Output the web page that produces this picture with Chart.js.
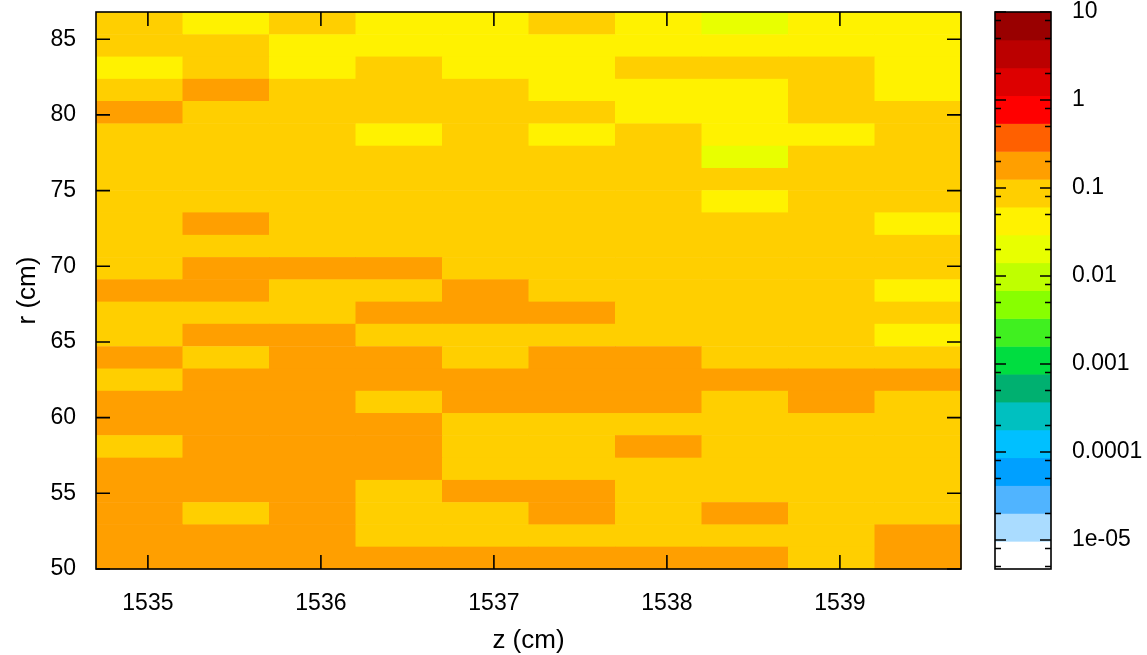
<!DOCTYPE html>
<html>
<head>
    <meta charset="utf-8">
    <title>r-z map</title>
    <script src="https://cdn.jsdelivr.net/npm/chart.js"></script>
    <style>
        body { margin: 0; background: #fff; }
    </style>
</head>
<body>
    <canvas id="mapChart" width="1147" height="655"></canvas>

    <script>
        // bin centres (cm)
        const zCentres = [1534.95, 1535.45, 1535.95, 1536.45, 1536.95, 1537.45, 1537.95, 1538.45, 1538.95, 1539.45];
        // rows listed from the top of the map down
        const rCentres = [86.06, 84.59, 83.12, 81.65, 80.18, 78.70, 77.23, 75.76, 74.29, 72.82, 71.34, 69.87, 68.40,
                          66.93, 65.46, 63.98, 62.51, 61.04, 59.57, 58.10, 56.62, 55.15, 53.68, 52.21, 50.74];

        // cell values (same row order as rCentres)
        const flux = [
            [0.085, 0.042, 0.085, 0.042, 0.042, 0.085, 0.042, 0.020, 0.042, 0.042],
            [0.085, 0.085, 0.042, 0.042, 0.042, 0.042, 0.042, 0.042, 0.042, 0.042],
            [0.042, 0.085, 0.042, 0.085, 0.042, 0.042, 0.085, 0.085, 0.085, 0.042],
            [0.085, 0.180, 0.085, 0.085, 0.085, 0.042, 0.042, 0.042, 0.085, 0.042],
            [0.180, 0.085, 0.085, 0.085, 0.085, 0.085, 0.042, 0.042, 0.085, 0.085],
            [0.085, 0.085, 0.085, 0.042, 0.085, 0.042, 0.085, 0.042, 0.042, 0.085],
            [0.085, 0.085, 0.085, 0.085, 0.085, 0.085, 0.085, 0.020, 0.085, 0.085],
            [0.085, 0.085, 0.085, 0.085, 0.085, 0.085, 0.085, 0.085, 0.085, 0.085],
            [0.085, 0.085, 0.085, 0.085, 0.085, 0.085, 0.085, 0.042, 0.085, 0.085],
            [0.085, 0.180, 0.085, 0.085, 0.085, 0.085, 0.085, 0.085, 0.085, 0.042],
            [0.085, 0.085, 0.085, 0.085, 0.085, 0.085, 0.085, 0.085, 0.085, 0.085],
            [0.085, 0.180, 0.180, 0.180, 0.085, 0.085, 0.085, 0.085, 0.085, 0.085],
            [0.180, 0.180, 0.085, 0.085, 0.180, 0.085, 0.085, 0.085, 0.085, 0.042],
            [0.085, 0.085, 0.085, 0.180, 0.180, 0.180, 0.085, 0.085, 0.085, 0.085],
            [0.085, 0.180, 0.180, 0.085, 0.085, 0.085, 0.085, 0.085, 0.085, 0.042],
            [0.180, 0.085, 0.180, 0.180, 0.085, 0.180, 0.180, 0.085, 0.085, 0.085],
            [0.085, 0.180, 0.180, 0.180, 0.180, 0.180, 0.180, 0.180, 0.180, 0.180],
            [0.180, 0.180, 0.180, 0.085, 0.180, 0.180, 0.180, 0.085, 0.180, 0.085],
            [0.180, 0.180, 0.180, 0.180, 0.085, 0.085, 0.085, 0.085, 0.085, 0.085],
            [0.085, 0.180, 0.180, 0.180, 0.085, 0.085, 0.180, 0.085, 0.085, 0.085],
            [0.180, 0.180, 0.180, 0.180, 0.085, 0.085, 0.085, 0.085, 0.085, 0.085],
            [0.180, 0.180, 0.180, 0.085, 0.180, 0.180, 0.085, 0.085, 0.085, 0.085],
            [0.180, 0.085, 0.180, 0.085, 0.085, 0.180, 0.085, 0.180, 0.085, 0.085],
            [0.180, 0.180, 0.180, 0.085, 0.085, 0.085, 0.085, 0.085, 0.085, 0.180],
            [0.180, 0.180, 0.180, 0.180, 0.180, 0.180, 0.180, 0.180, 0.085, 0.180]
        ];

        const zTicks = [1535, 1536, 1537, 1538, 1539];
        const rTicks = [50, 55, 60, 65, 70, 75, 80, 85];
        const cTicks = [1e-5, 1e-4, 1e-3, 1e-2, 1e-1, 1, 10];
        const cLabels = ["1e-05", "0.0001", "0.001", "0.01", "0.1", "1", "10"];

        // palette, lowest band first
        const palette = ["#ffffff", "#aadcff", "#50b4ff", "#00a0ff", "#00c0ff", "#00c0c0", "#00b070",
                         "#00dd40", "#40f020", "#88ff00", "#bfff00", "#e8ff00", "#fff200", "#ffcf00",
                         "#ff9f00", "#ff6000", "#ff0000", "#dd0000", "#bb0000", "#990000"];
        const cMin = Math.pow(10, -5.33);
        const cMax = 10;

        const logMin = Math.log10(cMin);
        const bandW = (Math.log10(cMax) - logMin) / palette.length;

        function colourFor(v) {
            let k = Math.floor((Math.log10(v) - logMin) / bandW);
            k = Math.max(0, Math.min(palette.length - 1, k));
            return palette[k];
        }

        function halfStep(arr, i) {
            const n = arr.length;
            return i < n - 1 ? Math.abs(arr[i + 1] - arr[i]) / 2 : Math.abs(arr[i] - arr[i - 1]) / 2;
        }

        const family = "'Liberation Sans', Arial, sans-serif";
        const tickFont = { family: family, size: 23, lineHeight: 1 };
        const titleFont = { family: family, size: 26, lineHeight: 1 };
        // label offset comes from an invisible tick mark, so the scale keeps no extra padding
        const gridFor = len => ({ display: true, drawOnChartArea: false, drawTicks: true, tickLength: len, tickColor: "rgba(0,0,0,0)" });

        const mapPlugin = {
            id: "map",
            beforeDatasetsDraw(chart) {
                const { ctx, scales: { x, y } } = chart;
                ctx.save();
                for (let j = 0; j < rCentres.length; j++) {
                    const hr = halfStep(rCentres, j);
                    const yTop = y.getPixelForValue(rCentres[j] + hr);
                    const yBot = y.getPixelForValue(rCentres[j] - hr);
                    for (let i = 0; i < zCentres.length; i++) {
                        const hz = halfStep(zCentres, i);
                        const xl = x.getPixelForValue(zCentres[i] - hz);
                        const xr = x.getPixelForValue(zCentres[i] + hz);
                        ctx.fillStyle = colourFor(flux[j][i]);
                        ctx.fillRect(xl, yTop, xr - xl + 0.5, yBot - yTop + 0.5);
                    }
                }
                ctx.restore();
            },
            afterDraw(chart) {
                const { ctx, chartArea: a, scales: { x, y, c } } = chart;
                ctx.save();
                ctx.strokeStyle = "#000";
                ctx.lineWidth = 1.6;
                ctx.beginPath();
                // inward ticks on all four sides
                zTicks.forEach(v => {
                    const px = x.getPixelForValue(v);
                    ctx.moveTo(px, a.bottom); ctx.lineTo(px, a.bottom - 14);
                    ctx.moveTo(px, a.top); ctx.lineTo(px, a.top + 14);
                });
                rTicks.forEach(v => {
                    const py = y.getPixelForValue(v);
                    ctx.moveTo(a.left, py); ctx.lineTo(a.left + 14, py);
                    ctx.moveTo(a.right, py); ctx.lineTo(a.right - 14, py);
                });
                ctx.stroke();
                ctx.strokeRect(a.left, a.top, a.right - a.left, a.bottom - a.top);

                // colour box
                const bx = a.right + 34, bw = 56;
                for (let k = 0; k < palette.length; k++) {
                    const lo = Math.pow(10, logMin + k * bandW);
                    const hi = Math.pow(10, logMin + (k + 1) * bandW);
                    const yHi = c.getPixelForValue(hi);
                    const yLo = c.getPixelForValue(lo);
                    ctx.fillStyle = palette[k];
                    ctx.fillRect(bx, yHi, bw, yLo - yHi + 0.5);
                }
                ctx.beginPath();
                cTicks.forEach(v => {
                    const py = c.getPixelForValue(v);
                    ctx.moveTo(bx, py); ctx.lineTo(bx + 11, py);
                    ctx.moveTo(bx + bw, py); ctx.lineTo(bx + bw - 11, py);
                });
                for (let e = -6; e <= 0; e++) {
                    [2, 5, 8].forEach(m => {
                        const v = m * Math.pow(10, e);
                        if (v < cMin || v > cMax) return;
                        const py = c.getPixelForValue(v);
                        ctx.moveTo(bx, py); ctx.lineTo(bx + 6, py);
                        ctx.moveTo(bx + bw, py); ctx.lineTo(bx + bw - 6, py);
                    });
                }
                ctx.stroke();
                ctx.strokeRect(bx, a.top, bw, a.bottom - a.top);
                ctx.restore();
            }
        };

        const ctx = document.getElementById("mapChart").getContext("2d");
        const chart = new Chart(ctx, {
            type: "scatter",
            data: { datasets: [{ data: [] }] },
            options: {
                responsive: false,
                animation: false,
                layout: { padding: { top: 12, left: 0, right: 0, bottom: 0 } },
                plugins: { legend: { display: false }, tooltip: { enabled: false } },
                scales: {
                    x: {
                        type: "linear",
                        min: 1534.70,
                        max: 1539.70,
                        afterBuildTicks: s => { s.ticks = zTicks.map(v => ({ value: v })); },
                        afterFit: s => { s.height = 86; },
                        grid: gridFor(23),
                        border: { display: false },
                        ticks: { padding: 0, color: "#000", font: tickFont, maxRotation: 0, callback: v => String(v) },
                        title: { display: true, text: "z (cm)", color: "#000", font: titleFont, padding: { top: 0, bottom: 1 } }
                    },
                    y: {
                        type: "linear",
                        min: 50,
                        max: 86.8,
                        afterBuildTicks: s => { s.ticks = rTicks.map(v => ({ value: v })); },
                        afterFit: s => { s.width = 96; },
                        grid: gridFor(20),
                        border: { display: false },
                        ticks: { padding: 0, color: "#000", font: tickFont, callback: v => String(v) },
                        title: { display: true, text: "r (cm)", color: "#000", font: titleFont, padding: { top: 15, bottom: 0 } }
                    },
                    c: {
                        axis: "y",
                        type: "logarithmic",
                        position: "right",
                        min: cMin,
                        max: cMax,
                        afterBuildTicks: s => { s.ticks = cTicks.map(v => ({ value: v })); },
                        afterFit: s => { s.width = 186; },
                        grid: gridFor(111),
                        border: { display: false },
                        ticks: { padding: 0, color: "#000", font: tickFont, autoSkip: false, callback: (v, i) => cLabels[i] }
                    }
                }
            },
            plugins: [mapPlugin]
        });
    </script>
</body>
</html>
